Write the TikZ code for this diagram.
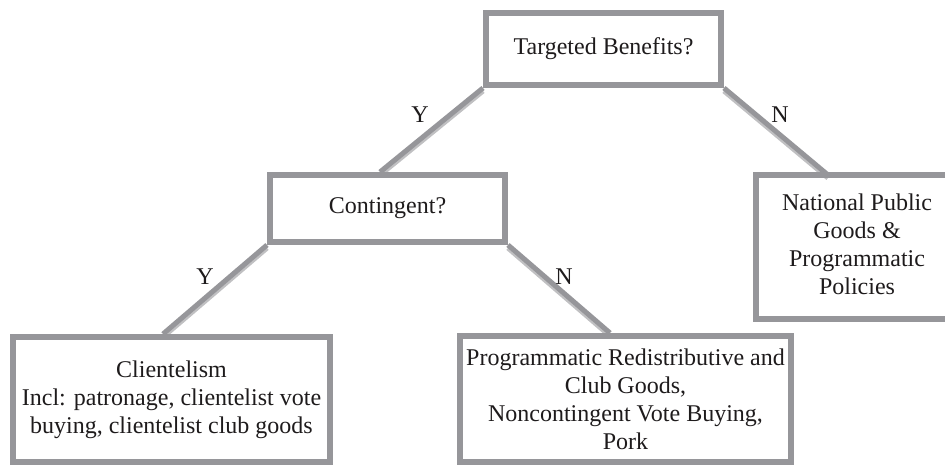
\documentclass[tikz,border=0pt]{standalone}
\usepackage{fontspec}
\setmainfont{Liberation Serif}
\usetikzlibrary{calc}
\definecolor{boxgray}{RGB}{150,150,154}
\definecolor{shadegray}{RGB}{192,192,194}
\definecolor{inkcol}{RGB}{30,27,28}
\tikzset{
  box/.style={draw=boxgray, line width=6pt, fill=white, rectangle, inner sep=0pt,
    align=center, text=inkcol, font=\fontsize{24}{28}\selectfont},
  openbox/.style={box, draw=none, outer sep=0pt},
  border/.style={draw=boxgray, line width=6pt, line join=miter},
  lbl/.style={text=inkcol, font=\fontsize{24}{28}\selectfont, inner sep=0pt},
  conn/.style={draw=boxgray, line width=5pt},
  connshade/.style={draw=shadegray, line width=5pt, transform canvas={yshift=-3pt}}
}
\newcommand{\nattext}{\begin{tabular}{@{}c@{}}National Public\\Goods \&\\Programmatic\\Policies\end{tabular}\hspace*{60pt}}
\begin{document}
\begin{tikzpicture}[x=1pt,y=-1pt]
\useasboundingbox (0,0) rectangle (948,467);
\fill[white] (0,0) rectangle (948,467);
\coordinate (natend) at (945,0);
\path (603.5,49) node[box, minimum width=235pt, minimum height=72pt] (top) {Targeted Benefits?};
\path (387.5,208.5) node[box, minimum width=235pt, minimum height=67pt] (cont) {Contingent?};
\path (887,247) node[openbox, minimum width=262pt, minimum height=144pt, fill=none] (nat) {\nattext};
\path (171.5,399.5) node[box, minimum width=317pt, minimum height=125pt] (client) {Clientelism\\Incl: patronage, clientelist vote\\buying, clientelist club goods};
\path (625.5,399) node[box, minimum width=331pt, minimum height=126pt] (prog) {Programmatic Redistributive and\\Club Goods,\\Noncontingent Vote Buying,\\Pork};
% connectors
\draw[connshade] (top.south west) -- ([xshift=-7.5pt]cont.north);
\draw[conn] (top.south west) -- ([xshift=-7.5pt]cont.north);
\draw[connshade] (top.south east) -- ([xshift=-59pt]nat.north);
\draw[conn] (top.south east) -- ([xshift=-59pt]nat.north);
\draw[connshade] (cont.south west) -- ([xshift=-8.5pt]client.north);
\draw[conn] (cont.south west) -- ([xshift=-8.5pt]client.north);
\draw[connshade] (cont.south east) -- ([xshift=-15.5pt]prog.north);
\draw[conn] (cont.south east) -- ([xshift=-15.5pt]prog.north);
% box borders over the connector ends
\path (603.5,49) node[box, minimum width=235pt, minimum height=72pt] {Targeted Benefits?};
\path (387.5,208.5) node[box, minimum width=235pt, minimum height=67pt] {Contingent?};
\draw[border] (nat.north west -| natend) -- (nat.north west) -- (nat.south west) -- (nat.south west -| natend);
\path (171.5,399.5) node[box, minimum width=317pt, minimum height=125pt] {Clientelism\\Incl: patronage, clientelist vote\\buying, clientelist club goods};
\path (625.5,399) node[box, minimum width=331pt, minimum height=126pt] {Programmatic Redistributive and\\Club Goods,\\Noncontingent Vote Buying,\\Pork};
% labels
\node[lbl] (ly1) at (420,115) {Y};
\node[lbl] (ln1) at (780,115) {N};
\node[lbl] (ly2) at (205,277) {Y};
\node[lbl] (ln2) at (564,277) {N};
\end{tikzpicture}
\end{document}
